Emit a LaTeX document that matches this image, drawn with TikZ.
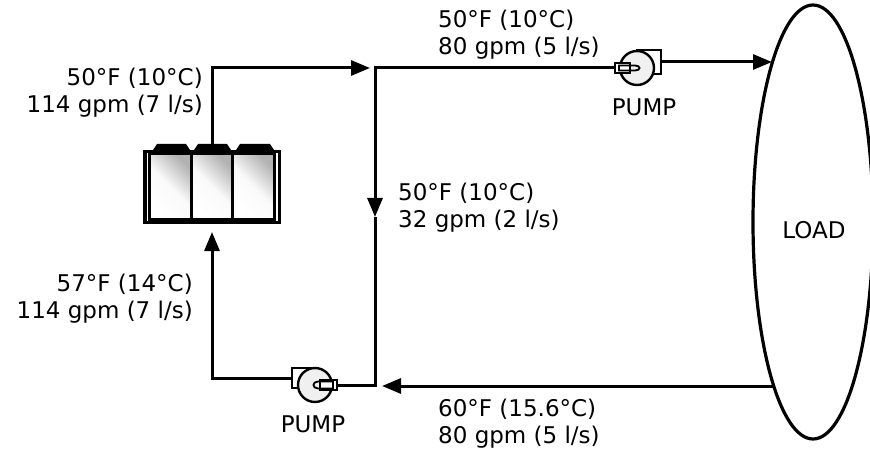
\documentclass[tikz,border=0pt]{standalone}
\usepackage{fontspec}
\setmainfont{DejaVu Sans}
\usetikzlibrary{arrows.meta,shapes.geometric}
\tikzset{
	pipe/.style={line width=3pt},
	cell/.style={draw, line width=3.2pt, minimum width=41.7, minimum height=65.5, inner sep=0, top color=gray!60, bottom color=white, middle color=gray!4, shading angle=-45},
	pumpcase/.style={draw, circle, line width=2.4pt, fill=gray!12, minimum size=34, inner sep=0},
	pumpbox/.style={draw, line width=2.4pt, fill=white, inner sep=0},
	flowtxt/.style={font=\fontsize{23}{27}\selectfont, inner sep=0},
}
\begin{document}
\begin{tikzpicture}[x=1pt,y=-1pt,>={Triangle[length=19pt,width=15pt]}]
			\useasboundingbox (0,0) rectangle (870,449);
			
			\node	(chiller) at (212,187) [draw, line width=3.4pt, minimum width=134.4, minimum height=71, inner sep=0] {};
			\node	(cellA) at (170.3,186.5) [cell] {};
			\node	(cellB) at (212,186.5) [cell] {};
			\node	(cellC) at (253.7,186.5) [cell] {};
			
			\node	(outA) at (649,62) [pumpbox, minimum width=24, minimum height=24] {};
			\node	(pumpA) at (637,68) [pumpcase] {};
			\node	(nozA) at (622.5,68) [pumpbox, minimum width=15, minimum height=10] {};
			\node	(outB) at (303.5,378) [pumpbox, minimum width=23, minimum height=20] {};
			\node	(pumpB) at (315,385) [pumpcase] {};
			\node	(nozB) at (328.5,385) [pumpbox, minimum width=17, minimum height=10] {};
			
			\node	(load) at (813,222) [draw, ellipse, line width=3.2pt, minimum width=120, minimum height=434, inner sep=0] {};
			\node	(loadtxt) at (814,230) [flowtxt] {LOAD};
			
			\coordinate (tee) at (375,68);
			\coordinate (teeIn) at (370,68);
			\coordinate (midDown) at (375,217);
			\coordinate (corner) at (375,385);
			\coordinate (retTip) at (382,386);
			\coordinate (loadIn) at (772,62);
			\coordinate (loadOut) at (773,386);
			\coordinate (chIn) at (212,232);
			
			\draw[pipe,->] (chiller.north) |- (teeIn);
			\draw[pipe,->] (nozA.west) -- (tee) -- (midDown);
			\draw[pipe] (midDown) -- (corner) -- (nozB.east);
			\draw[pipe,->] (outA.east) -- (loadIn);
			\draw[pipe,->] (loadOut) -- (retTip);
			\draw[pipe,->] (outB.west) -| (chIn);
			
			\fill (153,150) -- (157,144) -- (186,144) -- (190,150) -- cycle;
			\fill (194,150) -- (198,144) -- (227,144) -- (231,150) -- cycle;
			\fill (236,150) -- (240,144) -- (270,144) -- (274,150) -- cycle;
			\draw[line width=1.8pt] (619,65.5) -- (635,65.5) .. controls (641,65.5) and (641,70.5) .. (635,70.5) -- (619,70.5) -- cycle;
			\draw[line width=1.8pt] (333,381.5) -- (318,381.5) .. controls (312,381.5) and (312,388.5) .. (318,388.5) -- (333,388.5) -- cycle;
			
			\node	(lblA) at (203,113) [flowtxt, anchor=base east, align=right] {50°F (10°C)\\114 gpm (7 l/s)};
			\node	(lblB) at (193,318) [flowtxt, anchor=base east, align=right] {57°F (14°C)\\114 gpm (7 l/s)};
			\node	(lblC) at (438,55) [flowtxt, anchor=base west, align=left] {50°F (10°C)\\80 gpm (5 l/s)};
			\node	(lblD) at (398,228) [flowtxt, anchor=base west, align=left] {50°F (10°C)\\32 gpm (2 l/s)};
			\node	(lblE) at (438,443) [flowtxt, anchor=base west, align=left] {60°F (15.6°C)\\80 gpm (5 l/s)};
			\node	(pumpAtxt) at (644,116) [flowtxt, anchor=base] {PUMP};
			\node	(pumpBtxt) at (313,432) [flowtxt, anchor=base] {PUMP};
		\end{tikzpicture}
\end{document}
